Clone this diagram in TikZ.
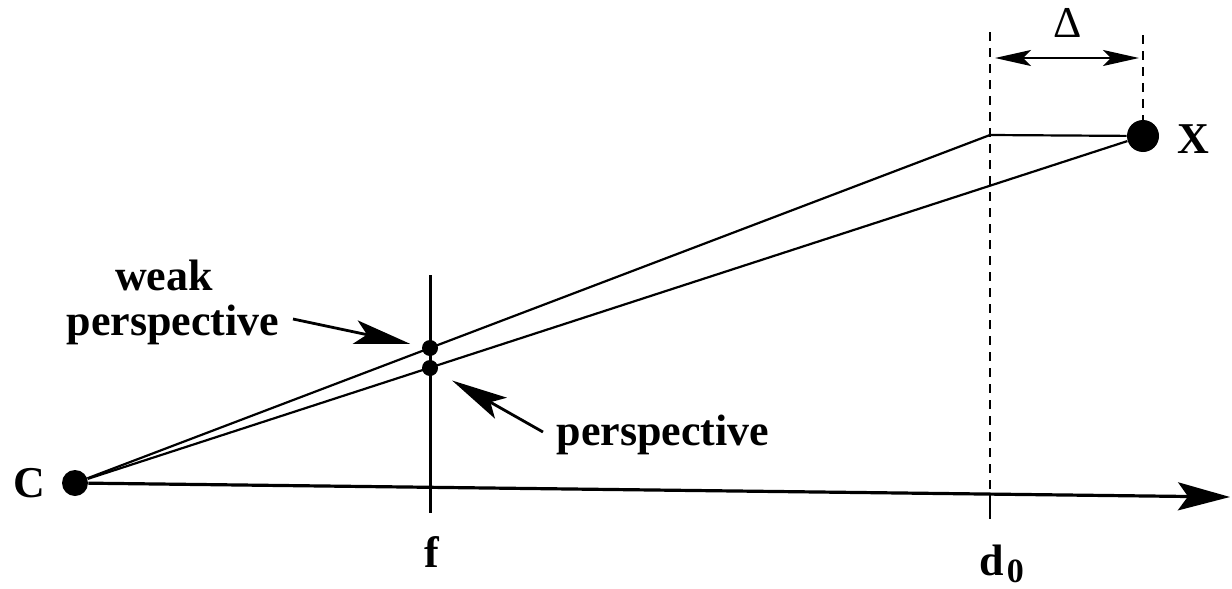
\documentclass[tikz,border=0pt]{standalone}
\usepackage{fontspec}
\setmainfont{Liberation Serif}
\usetikzlibrary{arrows.meta}
\begin{document}
\begin{tikzpicture}[x=0.5pt,y=-0.5pt,
  dot/.style={circle,fill=black,inner sep=0pt},
  lbl/.style={font=\fontsize{22}{22.5}\selectfont\bfseries,inner sep=0pt},
  ray/.style={line width=1.1pt},
  axisline/.style={line width=1.6pt,-{Stealth[length=26pt,width=14pt,inset=5pt]}},
  pointer/.style={line width=1.4pt,-{Stealth[length=28pt,width=12pt,inset=6pt]}},
  guide/.style={line width=1pt,dash pattern=on 4.5pt off 3.5pt},
  dimarrow/.style={line width=1.1pt,{Stealth[length=18pt,width=8pt,inset=4pt]}-{Stealth[length=18pt,width=8pt,inset=4pt]}},
]
\useasboundingbox (0,0) rectangle (1232,589);
% points
\node[dot,minimum size=13pt] (C) at (75,483) {};
\node[dot,minimum size=16pt] (X) at (1143,136) {};
\node[dot,minimum size=8pt] (wp) at (430,348) {};
\node[dot,minimum size=8pt] (p) at (430,368) {};
\coordinate (K) at (990,135);
\coordinate (axend) at (1230,497);
\coordinate (ftop) at (430,275);
\coordinate (fbot) at (430,513);
\coordinate (dtop) at (990,32);
\coordinate (dax) at (990,493);
\coordinate (dbot) at (990,519);
\coordinate (xtop) at (1143,35);
\coordinate (dl) at (995,58);
\coordinate (dr) at (1139,58);
\coordinate (wpt) at (293,319);
\coordinate (ppt) at (543,432);
% lines
\draw[axisline] (C) -- (axend);
\draw[line width=1.5pt] (ftop) -- (fbot);
\draw[ray] (C) -- (K) -- (X);
\draw[ray] (C) -- (X);
\draw[guide] (dtop) -- (dax);
\draw[line width=1.3pt] (dax) -- (dbot);
\draw[guide] (xtop) -- (X);
\draw[dimarrow] (dl) -- (dr);
\draw[pointer,shorten >=6pt] (wpt) -- (wp);
\draw[pointer,shorten >=8.5pt] (ppt) -- (p);
% labels
\node[lbl,anchor=base] (Cl) at (29,497) {C};
\node[lbl,anchor=base] (Xl) at (1193,153) {X};
\node[lbl,anchor=base] (fl) at (432,567) {f};
\node[lbl,anchor=base west] (dl0) at (979,575) {d\kern1.5pt\raisebox{-3.5pt}{\fontsize{17}{17}\selectfont 0}};
\node[font=\fontsize{22}{22.5}\selectfont,inner sep=0pt,anchor=base] (Dl) at (1068,38) {Δ};
\node[lbl,anchor=base] (wl1) at (164,290) {weak};
\node[lbl,anchor=base] (wl2) at (173,335) {perspective};
\node[lbl,anchor=base] (pl) at (663,445) {perspective};
\end{tikzpicture}
\end{document}
